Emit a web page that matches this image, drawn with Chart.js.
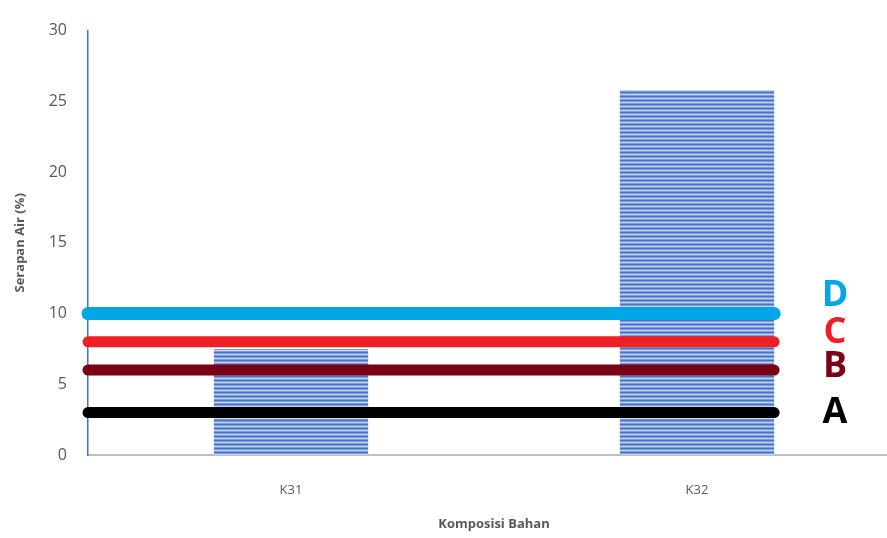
<!DOCTYPE html>
<html>
<head>
<meta charset="utf-8">
<script src="https://cdn.jsdelivr.net/npm/chart.js@4.4.1/dist/chart.umd.min.js"></script>
<style>
  html, body { margin: 0; padding: 0; background: #ffffff; }
  #wrap { width: 887px; height: 538px; position: relative; overflow: hidden; }
</style>
</head>
<body>
<div id="wrap"><canvas id="chart" width="900" height="538"></canvas></div>
<script>
// Water absorption per material composition
const categories = ['K31', 'K32'];
const absorption = [7.5, 25.8];

// Reference limit levels A–D
const limitNames = ['A', 'B', 'C', 'D'];
const limitValues = [3, 6, 8, 10];

const yTicks = [0, 5, 10, 15, 20, 25, 30];

// Styling
const limitColors = ['#000000', '#7B0015', '#EE1F27', '#00A6E6'];
const limitWidths = [11, 11, 11, 13];
const letterOffsets = [0, -3, -9, -18];
const textGray = '#595959';

function stripePattern() {
  const c = document.createElement('canvas');
  c.width = 8; c.height = 4;
  const g = c.getContext('2d');
  const rows = ['#4A74C6', '#7C9CDB', '#C4D3EF', '#7C9CDB'];
  rows.forEach((col, i) => { g.fillStyle = col; g.fillRect(0, i, 8, 1); });
  return g.createPattern(c, 'repeat');
}

const limitSets = limitValues.map((v, i) => ({
  type: 'line',
  label: limitNames[i],
  xAxisID: 'xl',
  data: [{ x: 0, y: v }, { x: 0.845, y: v }],
  borderColor: limitColors[i],
  borderWidth: limitWidths[i],
  borderCapStyle: 'round',
  pointRadius: 0,
  clip: false,
  order: 0
}));

const letterPlugin = {
  id: 'limitLetters',
  afterDatasetsDraw(chart) {
    const ctx = chart.ctx;
    const y = chart.scales.y;
    ctx.save();
    ctx.font = 'bold 36px "Open Sans", "Liberation Sans", sans-serif';
    ctx.textAlign = 'center';
    ctx.textBaseline = 'middle';
    limitNames.forEach((n, i) => {
      ctx.fillStyle = limitColors[i];
      ctx.fillText(n, 835, y.getPixelForValue(limitValues[i]) + letterOffsets[i]);
    });
    ctx.restore();
  }
};

new Chart(document.getElementById('chart'), {
  type: 'bar',
  data: {
    labels: categories,
    datasets: [
      {
        type: 'bar',
        label: 'Serapan Air',
        data: absorption,
        backgroundColor: stripePattern(),
        borderWidth: 0,
        grouped: false,
        barPercentage: 0.76,
        categoryPercentage: 0.5,
        order: 1
      },
      ...limitSets
    ]
  },
  options: {
    responsive: false,
    animation: false,
    layout: { padding: { top: 23, right: 0, left: 0, bottom: 0 } },
    plugins: { legend: { display: false }, tooltip: { enabled: false } },
    scales: {
      x: {
        type: 'category',
        grid: { display: false, drawTicks: false },
        border: { color: '#BFBFBF', width: 2 },
        ticks: { color: textGray, font: { family: '"Open Sans", sans-serif', size: 13 }, padding: 27 },
        title: {
          display: true, text: 'Komposisi Bahan', color: textGray,
          font: { family: '"Open Sans", sans-serif', size: 13, weight: 'bold' },
          padding: { top: 8, bottom: 6 }
        },
        afterFit(s) { s.height = 83; }
      },
      xl: {
        type: 'linear', display: false, offset: false, min: 0, max: 1
      },
      y: {
        min: 0, max: 30,
        afterBuildTicks(s) { s.ticks = yTicks.map(v => ({ value: v })); },
        grid: { display: false, drawTicks: false },
        border: { color: '#4472C4', width: 1.5 },
        ticks: { color: textGray, font: { family: '"Open Sans", sans-serif', size: 16 }, padding: 21 },
        title: {
          display: true, text: 'Serapan Air (%)', color: textGray,
          font: { family: '"Open Sans", sans-serif', size: 13, weight: 'bold' },
          padding: { top: 12, bottom: 0 }
        },
        afterFit(s) { s.width = 88; }
      }
    }
  },
  plugins: [letterPlugin]
});
</script>
</body>
</html>
